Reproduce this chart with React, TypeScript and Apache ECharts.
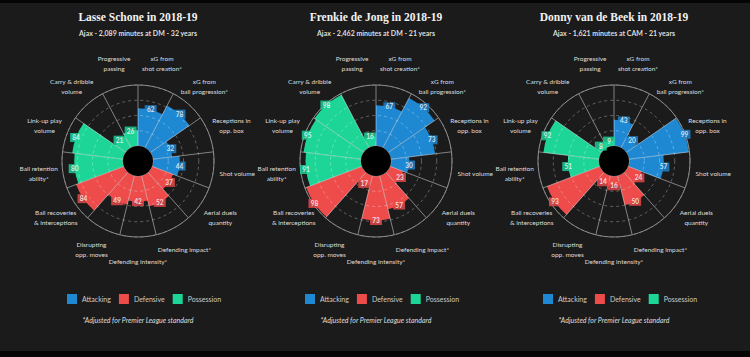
import React, { useEffect, useRef } from "react";
import * as echarts from "echarts";

const CATEGORIES = [
  "xG from\nshot creation*",
  "xG from\nball progression*",
  "Receptions in\nopp. box",
  "Shot volume",
  "Aerial duels\nquantity",
  "Defending impact*",
  "Defending intensity*",
  "Disrupting\nopp. moves",
  "Ball recoveries\n& interceptions",
  "Ball retention\nability*",
  "Link-up play\nvolume",
  "Carry & dribble\nvolume",
  "Progressive\npassing",
];
const GROUPS = [
  "Attacking", "Attacking", "Attacking", "Attacking",
  "Defensive", "Defensive", "Defensive", "Defensive", "Defensive",
  "Possession", "Possession", "Possession", "Possession",
];
const GROUP_NAMES = ["Attacking", "Defensive", "Possession"];
const TITLES = ["Lasse Schone in 2018-19", "Frenkie de Jong in 2018-19", "Donny van de Beek in 2018-19"];
const SUBTITLES = [
  "Ajax - 2,089 minutes at DM - 32 years",
  "Ajax - 2,462 minutes at DM - 21 years",
  "Ajax - 1,621 minutes at CAM - 21 years",
];
const LASSE = [62, 78, 32, 44, 37, 52, 42, 49, 84, 80, 84, 21, 26];
const FRENKIE = [67, 92, 73, 30, 23, 57, 73, 17, 98, 91, 95, 98, 16];
const DONNY = [43, 20, 99, 57, 24, 50, 16, 14, 93, 51, 92, 8, 9];
const PLAYER_VALUES = [LASSE, FRENKIE, DONNY];
const FOOTNOTE = "*Adjusted for Premier League standard";

const COLORS: Record<string, string> = {
  Attacking: "#1e88d3",
  Defensive: "#ee4b4b",
  Possession: "#1ed598",
};

const CX = [138, 376, 614];
const CY = 161;
const R_IN = 15;
const R_OUT = 76;
const LABEL_R = 100;

export default function App() {
  const ref = useRef<HTMLDivElement>(null);
  useEffect(() => {
    if (!ref.current) return;
    const chart = echarts.init(ref.current, undefined, { renderer: "svg" });
    const n = CATEGORIES.length;
    const step = 360 / n;

    const polar: any[] = [];
    const angleAxis: any[] = [];
    const radiusAxis: any[] = [];
    const series: any[] = [];
    const legend: any[] = [];
    const graphic: any[] = [];

    graphic.push({ type: "rect", shape: { x: 0, y: 0, width: 750, height: 3 }, style: { fill: "#050505" }, z: 0 });
    graphic.push({ type: "rect", shape: { x: 0, y: 351, width: 750, height: 6 }, style: { fill: "#050505" }, z: 0 });

    PLAYER_VALUES.forEach((vals, i) => {
      const cx = CX[i];
      polar.push({ center: [cx, CY], radius: [R_IN, R_OUT] });
      angleAxis.push({
        polarIndex: i,
        type: "category",
        data: CATEGORIES,
        startAngle: 90,
        clockwise: true,
        boundaryGap: true,
        z: 3,
        axisLine: { show: true, lineStyle: { color: "#8c8c8c", width: 1 } },
        axisTick: { show: false },
        axisLabel: { show: false },
        splitLine: { show: true, lineStyle: { color: "rgba(255,255,255,0.45)", width: 1 } },
      });
      radiusAxis.push({
        polarIndex: i,
        type: "value",
        min: 0,
        max: 100,
        interval: 25,
        z: 3,
        axisLine: { show: false },
        axisTick: { show: false },
        axisLabel: { show: false },
        splitLine: { show: true, lineStyle: { color: "rgba(255,255,255,0.3)", width: 1, type: [3, 3] } },
      });
      GROUP_NAMES.forEach((g) => {
        series.push({
          type: "bar",
          name: g,
          coordinateSystem: "polar",
          polarIndex: i,
          data: vals.map((v, k) => (GROUPS[k] === g ? v : "-")),
          barGap: "-100%",
          barCategoryGap: "0%",
          itemStyle: { color: COLORS[g] },
          z: 2,
        });
      });
      series.push({
        type: "scatter",
        coordinateSystem: "polar",
        polarIndex: i,
        symbol: "rect",
        symbolSize: [12, 9],
        z: 5,
        data: vals.map((v, k) => ({ value: [v, k], itemStyle: { color: COLORS[GROUPS[k]] } })),
        label: {
          show: true,
          position: "inside",
          formatter: (p: any) => String(p.value[0]),
          color: "#ffffff",
          fontSize: 6.5,
          fontWeight: "bold",
          fontFamily: "Lato",
        },
      });
      legend.push({
        left: cx - 76,
        top: 289,
        data: GROUP_NAMES,
        icon: "rect",
        itemWidth: 10,
        itemHeight: 10,
        itemGap: 8,
        selectedMode: false,
        textStyle: { color: "#cccccc", fontSize: 7, fontFamily: "Lato" },
      });

      graphic.push({ type: "circle", shape: { cx, cy: CY, r: R_IN }, style: { fill: "#000000" }, z: 4 });
      graphic.push({
        type: "text", x: cx, y: 17, z: 6,
        style: { text: TITLES[i], fill: "#f2f2f2", fontSize: 11.5, fontWeight: "bold", fontFamily: "Liberation Serif", align: "center", verticalAlign: "middle" },
      });
      graphic.push({
        type: "text", x: cx, y: 33, z: 6,
        style: { text: SUBTITLES[i], fill: "#dddddd", fontSize: 7, fontWeight: "bold", fontFamily: "Lato", align: "center", verticalAlign: "middle" },
      });
      graphic.push({
        type: "text", x: cx, y: 320, z: 6,
        style: { text: FOOTNOTE, fill: "#dddddd", fontSize: 7, fontStyle: "italic", fontFamily: "Lato", align: "center", verticalAlign: "middle" },
      });
      CATEGORIES.forEach((c, k) => {
        const a = ((90 - (k + 0.5) * step) * Math.PI) / 180;
        graphic.push({
          type: "text",
          x: cx + LABEL_R * Math.cos(a),
          y: CY - LABEL_R * Math.sin(a),
          z: 6,
          style: { text: c, fill: "#dddddd", fontSize: 6.5, fontFamily: "Lato", align: "center", verticalAlign: "middle", lineHeight: 10 },
        });
      });
    });

    chart.setOption({
      animation: false,
      backgroundColor: "#1b1b1b",
      polar,
      angleAxis,
      radiusAxis,
      legend,
      series,
      graphic,
    });
    return () => chart.dispose();
  }, []);
  return <div ref={ref} style={{ position: "fixed", left: 0, top: 0, width: 750, height: 357 }} />;
}
